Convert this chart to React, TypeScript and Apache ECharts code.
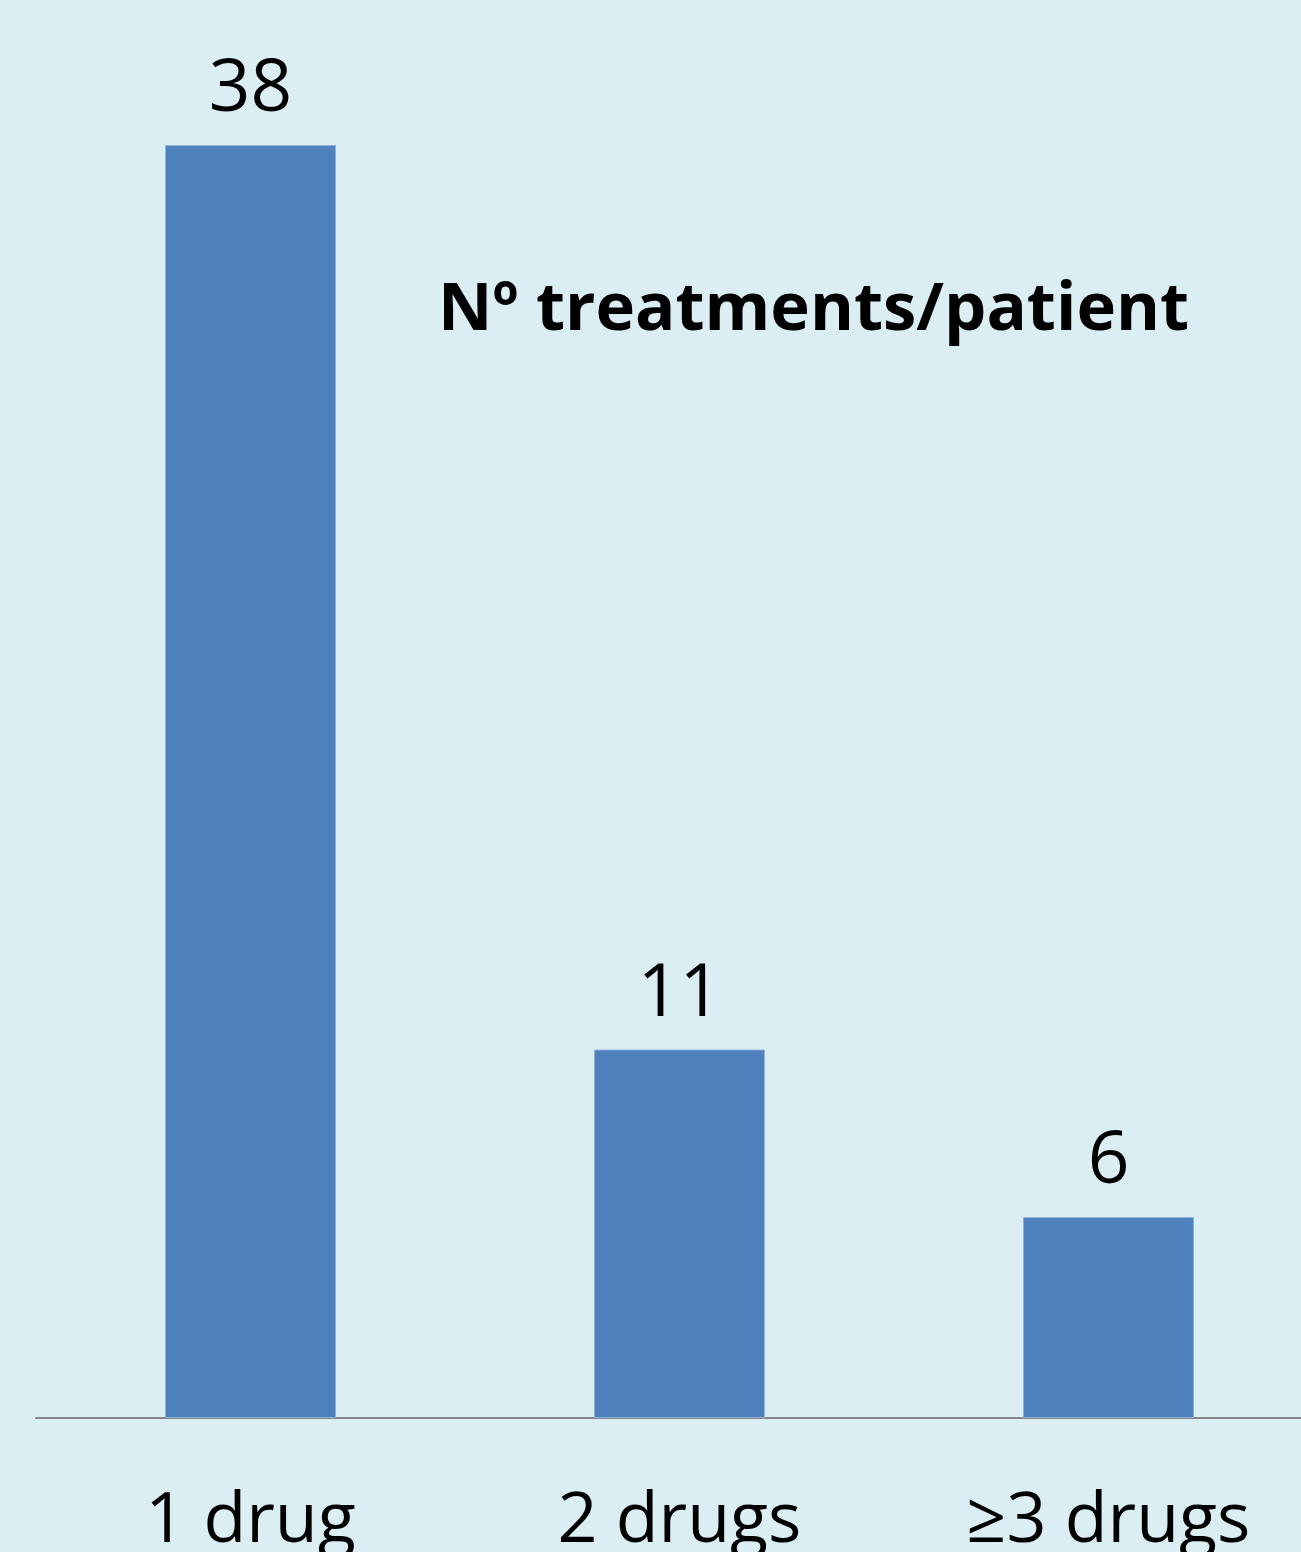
import React, { useEffect, useRef } from "react";
import * as echarts from "echarts";

const categories = ["1 drug", "2 drugs", "≥3 drugs"];
const patients = [38, 11, 6];
const titleText = "Nº treatments/patient";

export default function App() {
  const ref = useRef<HTMLDivElement>(null);
  useEffect(() => {
    if (!ref.current) return;
    const chart = echarts.init(ref.current, null, { renderer: "svg" });
    chart.setOption({
      animation: false,
      backgroundColor: "#DBEEF4",
      title: {
        text: titleText,
        left: 433,
        top: 265,
        textStyle: {
          fontFamily: "Open Sans",
          fontWeight: "bold",
          fontSize: 67,
          color: "#000",
        },
      },
      grid: { left: 36, right: 0, top: 145, bottom: 134, containLabel: false },
      xAxis: {
        type: "category",
        data: categories,
        axisLine: { show: true, lineStyle: { color: "#868686", width: 2 } },
        axisTick: { show: false },
        axisLabel: {
          fontFamily: "Open Sans",
          fontSize: 70,
          color: "#000",
          margin: 62,
        },
      },
      yAxis: {
        type: "value",
        min: 0,
        max: 38,
        show: false,
        splitLine: { show: false },
      },
      series: [
        {
          type: "bar",
          data: patients,
          barWidth: 171,
          itemStyle: { color: "#4F81BD", borderColor: "#8FB2DB", borderWidth: 1 },
          label: {
            show: true,
            position: "top",
            distance: 26,
            fontFamily: "Open Sans",
            fontSize: 73,
            color: "#000",
          },
        },
      ],
    });
    return () => chart.dispose();
  }, []);
  return (
    <div
      style={{
        position: "absolute",
        left: 0,
        top: 0,
        width: 1301,
        height: 1552,
        overflow: "hidden",
      }}
    >
      <div ref={ref} style={{ width: 1323, height: 1552 }} />
    </div>
  );
}
